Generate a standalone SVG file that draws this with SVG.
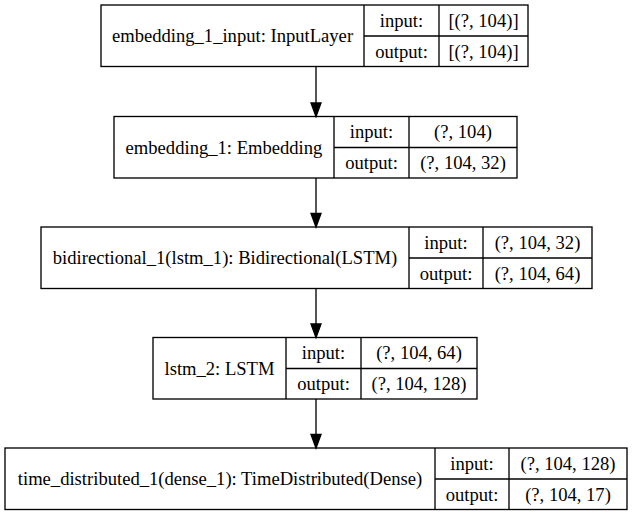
<svg xmlns="http://www.w3.org/2000/svg" width="632" height="516" viewBox="0 0 632 516">
<defs>
<style>
.n rect { fill: #fff; stroke: #000; stroke-width: 1.33; }
.n line { stroke: #000; stroke-width: 1.33; }
text { font-family: "Liberation Serif", "Times New Roman", serif; font-size: 18.6px; fill: #000; text-anchor: middle; }
.edge line { stroke: #000; stroke-width: 1.33; }
.edge polygon { fill: #000; stroke: #000; stroke-width: 1.33; }
</style>
</defs>
<rect width="632" height="516" fill="#fff"/>
<g id="embedding_1_input" class="n">
<rect x="101" y="5" width="427" height="61.5"/>
<line x1="364" y1="5" x2="364" y2="66.5"/>
<line x1="439" y1="5" x2="439" y2="66.5"/>
<line x1="364" y1="36" x2="528" y2="36"/>
<text x="232.5" y="42">embedding_1_input: InputLayer</text>
<text x="401.5" y="26.5">input:</text>
<text x="401.5" y="57.5">output:</text>
<text x="483.5" y="26.5">[(?, 104)]</text>
<text x="483.5" y="57.5">[(?, 104)]</text>
</g>
<g id="embedding_1" class="n">
<rect x="114" y="116.5" width="403" height="61.5"/>
<line x1="334" y1="116.5" x2="334" y2="178"/>
<line x1="409" y1="116.5" x2="409" y2="178"/>
<line x1="334" y1="147.5" x2="517" y2="147.5"/>
<text x="224" y="153.5">embedding_1: Embedding</text>
<text x="371.5" y="138">input:</text>
<text x="371.5" y="169">output:</text>
<text x="463" y="138">(?, 104)</text>
<text x="463" y="169">(?, 104, 32)</text>
</g>
<g id="bidirectional_1" class="n">
<rect x="41" y="227" width="551" height="61.5"/>
<line x1="409" y1="227" x2="409" y2="288.5"/>
<line x1="483" y1="227" x2="483" y2="288.5"/>
<line x1="409" y1="258" x2="592" y2="258"/>
<text x="225" y="264">bidirectional_1(lstm_1): Bidirectional(LSTM)</text>
<text x="446" y="248.5">input:</text>
<text x="446" y="279.5">output:</text>
<text x="537.5" y="248.5">(?, 104, 32)</text>
<text x="537.5" y="279.5">(?, 104, 64)</text>
</g>
<g id="lstm_2" class="n">
<rect x="153" y="337.5" width="324" height="61.5"/>
<line x1="286" y1="337.5" x2="286" y2="399"/>
<line x1="361" y1="337.5" x2="361" y2="399"/>
<line x1="286" y1="368.5" x2="477" y2="368.5"/>
<text x="219.5" y="374.5">lstm_2: LSTM</text>
<text x="323.5" y="359">input:</text>
<text x="323.5" y="390">output:</text>
<text x="419" y="359">(?, 104, 64)</text>
<text x="419" y="390">(?, 104, 128)</text>
</g>
<g id="time_distributed_1" class="n">
<rect x="5" y="448" width="622" height="61.5"/>
<line x1="435" y1="448" x2="435" y2="509.5"/>
<line x1="509" y1="448" x2="509" y2="509.5"/>
<line x1="435" y1="479" x2="627" y2="479"/>
<text x="220" y="485">time_distributed_1(dense_1): TimeDistributed(Dense)</text>
<text x="472" y="469.5">input:</text>
<text x="472" y="500.5">output:</text>
<text x="568" y="469.5">(?, 104, 128)</text>
<text x="568" y="500.5">(?, 104, 17)</text>
</g>
<g id="connectors" class="edge">
<line x1="316" y1="66.5" x2="316" y2="103"/>
<polygon points="311,103 321,103 316,116.5"/>
<line x1="316" y1="178" x2="316" y2="213.5"/>
<polygon points="311,213.5 321,213.5 316,227"/>
<line x1="316" y1="288.5" x2="316" y2="324"/>
<polygon points="311,324 321,324 316,337.5"/>
<line x1="316" y1="399" x2="316" y2="434.5"/>
<polygon points="311,434.5 321,434.5 316,448"/>
</g>
</svg>
